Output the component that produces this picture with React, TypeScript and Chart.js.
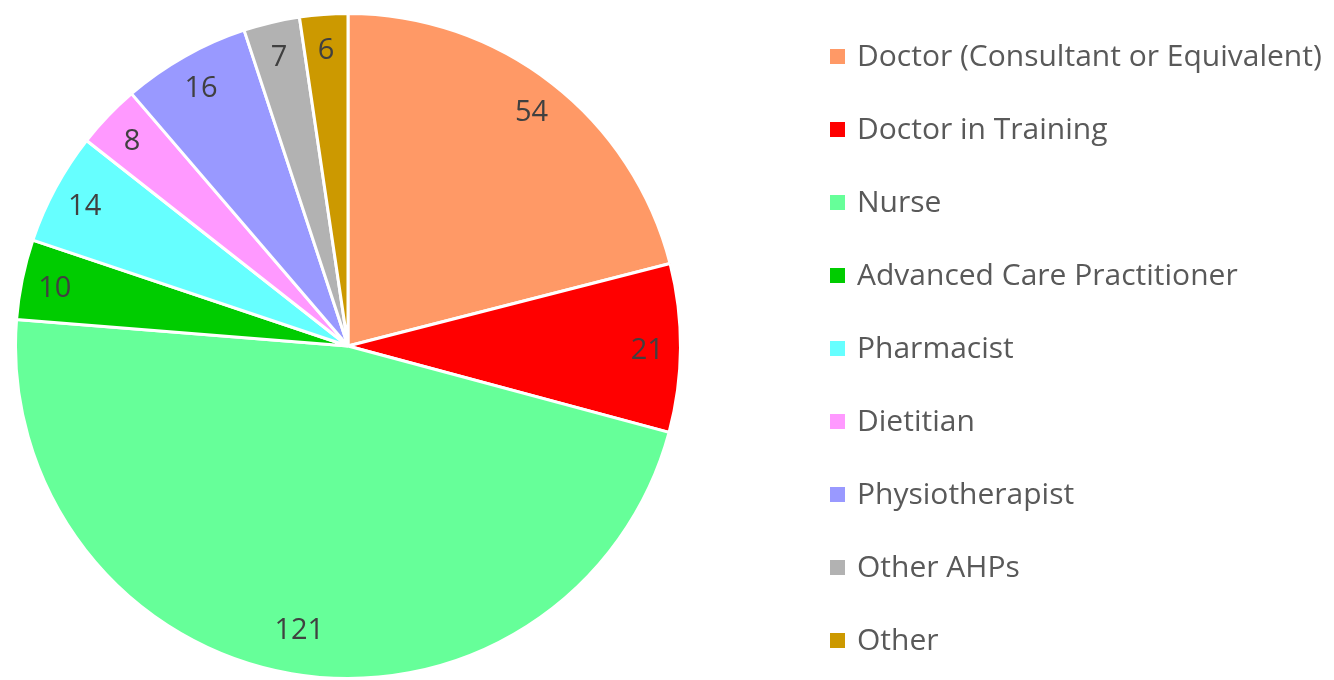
import React, { useEffect, useRef } from "react";
import { Chart, registerables } from "chart.js";

Chart.register(...registerables);

const categories = [
  "Doctor (Consultant or Equivalent)",
  "Doctor in Training",
  "Nurse",
  "Advanced Care Practitioner",
  "Pharmacist",
  "Dietitian",
  "Physiotherapist",
  "Other AHPs",
  "Other",
];
const counts = [54, 21, 121, 10, 14, 8, 16, 7, 6];
const colors = [
  "#FF9966",
  "#FF0000",
  "#66FF99",
  "#00CC00",
  "#66FFFF",
  "#FF99FF",
  "#9999FF",
  "#B2B2B2",
  "#CC9900",
];

const FONT = "'Open Sans', 'Liberation Sans', sans-serif";

const labelPlugin = {
  id: "sliceLabels",
  afterDatasetsDraw(chart: any) {
    const ctx = chart.ctx;
    const meta = chart.getDatasetMeta(0);
    ctx.save();
    ctx.fillStyle = "#404040";
    ctx.font = `29px ${FONT}`;
    ctx.textAlign = "center";
    ctx.textBaseline = "middle";
    meta.data.forEach((arc: any, i: number) => {
      const { x, y, startAngle, endAngle, outerRadius } = arc.getProps(
        ["x", "y", "startAngle", "endAngle", "outerRadius"],
        true
      );
      const mid = (startAngle + endAngle) / 2;
      const r = outerRadius * (counts[i] > 100 ? 0.86 : 0.9);
      ctx.fillText(String(counts[i]), x + Math.cos(mid) * r, y + Math.sin(mid) * r + 3);
    });
    ctx.restore();
  },
};

const legendPlugin = {
  id: "customLegend",
  afterDraw(chart: any) {
    const ctx = chart.ctx;
    const labels = chart.data.labels as string[];
    const bg = chart.data.datasets[0].backgroundColor as string[];
    ctx.save();
    ctx.font = `30px ${FONT}`;
    ctx.textBaseline = "middle";
    ctx.textAlign = "left";
    labels.forEach((lab, i) => {
      const y = 56.5 + i * 73;
      ctx.fillStyle = bg[i];
      ctx.fillRect(830, y - 7.5, 15, 15);
      ctx.fillStyle = "#595959";
      ctx.fillText(lab, 857, y + 1);
    });
    ctx.restore();
  },
};

export default function App() {
  const ref = useRef<HTMLCanvasElement>(null);
  useEffect(() => {
    document.body.style.margin = "0";
    const chart = new Chart(ref.current!, {
      type: "pie",
      data: {
        labels: categories,
        datasets: [
          {
            data: counts,
            backgroundColor: colors,
            borderColor: "#FFFFFF",
            borderWidth: 3,
          },
        ],
      },
      options: {
        responsive: false,
        animation: false,
        layout: { padding: { left: 14, top: 12, right: 652, bottom: 0 } },
        plugins: {
          legend: { display: false },
          tooltip: { enabled: false },
        },
      },
      plugins: [labelPlugin, legendPlugin],
    });
    return () => chart.destroy();
  }, []);
  return (
    <div style={{ width: 1334, height: 680, background: "#fff" }}>
      <canvas ref={ref} width={1334} height={680} />
    </div>
  );
}
